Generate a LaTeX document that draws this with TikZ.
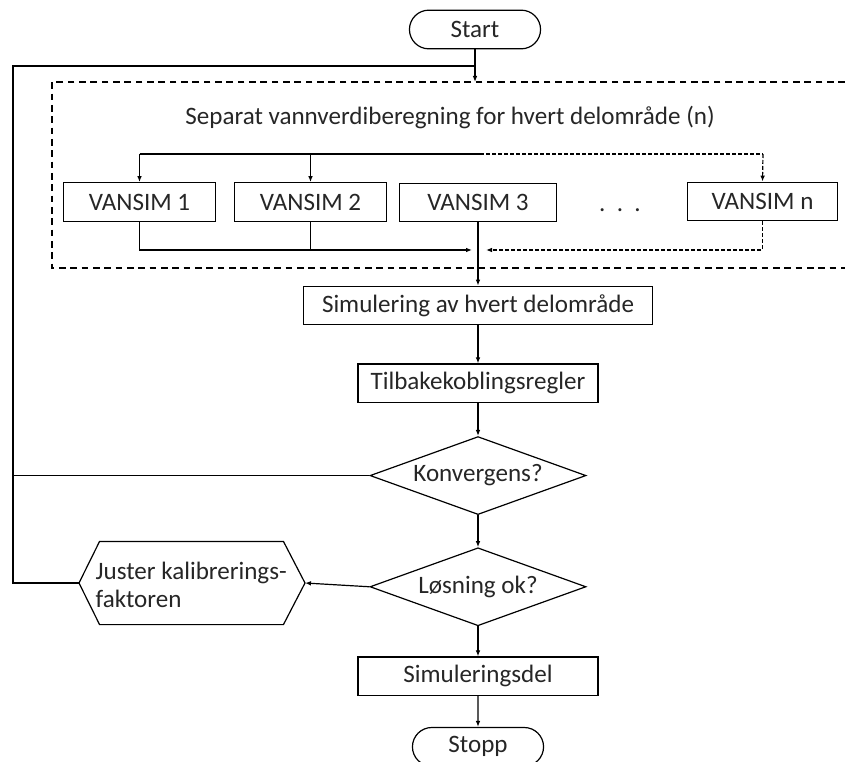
\documentclass[tikz,border=0pt]{standalone}
\usepackage{fontspec}
\setmainfont{Carlito}
\usepackage{tikz}
\usetikzlibrary{arrows.meta,positioning,calc,shapes.geometric,shapes.misc}

\begin{document}
\begin{tikzpicture}[x=0.75pt,y=-0.75pt,>={Latex[length=4.5pt,width=3.5pt]},
  line width=0.9pt,font=\fontsize{18.8}{21}\selectfont,text=black!85,
  box/.style={draw,rectangle,minimum height=29pt,inner sep=2pt},
  term/.style={draw,rounded rectangle,minimum width=105pt,minimum height=29pt},
  test/.style={draw,diamond,aspect=2.8,inner sep=0pt,minimum width=162pt,minimum height=58.5pt},
  fine/.style={dash pattern=on 3pt off 1.5pt},
  frame/.style={dash pattern=on 5pt off 3.5pt}]
  \useasboundingbox (0,0) rectangle (845,762);

  % hoveddel
  \node[term] (start) at (475,29.5) {Start};
  \node[box,minimum width=262pt] (sim) at (478,305.5) {Simulering av hvert delområde};
  \node[box,minimum width=180pt,below=28.5pt of sim] (tilb) {Tilbakekoblingsregler};
  \node[test,below=24.5pt of tilb] (konv) {Konvergens?};
  \node[test,below=24pt of konv] (los) {Løsning ok?};
  \node[box,minimum width=180pt,below=22.5pt of los] (simdel) {Simuleringsdel};
  \node[term,minimum width=105pt,below=23pt of simdel] (stopp) {Stopp};

  % separat vannverdiberegning
  \draw[frame] (845,82) -| (52,268) -- (845,268);
  \node (tittel) at (450,117) {Separat vannverdiberegning for hvert delområde (n)};
  \node[box,minimum width=114pt] (v1) at (139.5,202) {VANSIM 1};
  \node[box,minimum width=114pt] (v2) at (310.5,202) {VANSIM 2};
  \node[box,minimum width=118pt] (v3) at (478,202.5) {VANSIM 3};
  \node[anchor=base] (prikk) at (620,212) {.\ \ .\ \ .};
  \node[box,minimum width=113pt] (vn) at (762.5,201.5) {VANSIM n};

  \coordinate (top1) at (139.5,154);
  \coordinate (top2) at (310.5,154);
  \coordinate (topm) at (480,154);
  \coordinate (topn) at (763,154);
  \coordinate (botL) at (472,250);
  \coordinate (botR) at (486,250);
  \draw (top1) -- (topm);
  \draw[fine] (topm) -- (topn);
  \draw[->] (top1) -- (v1.north);
  \draw[->] (top2) -- (v2.north);
  \draw[fine,->] (topn) -- (vn.north);
  \draw[->] (v1.south) |- (botL);
  \draw (v2.south) -- (v2.south |- botL);
  \draw[fine,->] (vn.south) |- (botR);

  % justering
  \node[rectangle,minimum width=137pt,minimum height=61.5pt,inner sep=0pt] (just) at (191.5,583) {};
  \node[align=left,anchor=west,inner sep=0pt] (justtxt) at (95,585) {Juster kalibrerings-\\faktoren};
  \coordinate (justW) at (79,583);
  \coordinate (justE) at (305,583);
  \draw (justW) -- (just.north west) -- (just.north east) -- (justE)
    -- (just.south east) -- (just.south west) -- cycle;

  \coordinate (boxtop) at (475,82);
  \coordinate (back) at (13,66);
  \coordinate (join) at (475,66);

  \draw[->] (start.south) -- (boxtop);
  \draw[->] (v3.south) -- (sim.north);
  \draw[->] (sim) -- (tilb);
  \draw[->] (tilb) -- (konv);
  \draw[->] (konv) -- (los);
  \draw[->] (los) -- (simdel);
  \draw[->] (simdel) -- (stopp);
  \draw[->] (los.west) -- (justE);
  \draw (konv.west) -| (back) -- (join);
  \draw (justW) -| (back);
\end{tikzpicture}
\end{document}
